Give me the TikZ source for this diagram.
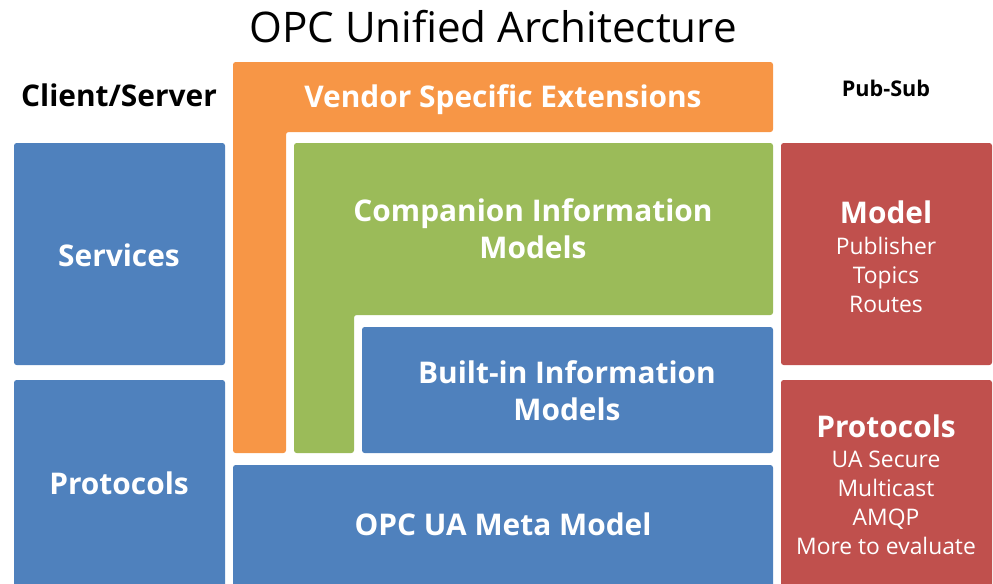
\documentclass[tikz,border=0pt]{standalone}
\usepackage{fontspec}
\setmainfont{Open Sans}
\definecolor{uablue}{HTML}{4F81BD}
\definecolor{uaorange}{HTML}{F79646}
\definecolor{uagreen}{HTML}{9BBB59}
\definecolor{uared}{HTML}{C0504D}
\begin{document}
\begin{tikzpicture}[x=0.02cm,y=-0.02cm,
		layer/.style={rounded corners=1.5pt},
		head/.style={text=white,align=center,
			font=\bfseries\fontsize{17}{21}\selectfont},
		items/.style={text=white,align=center,
			font=\fontsize{13}{16.4}\selectfont},
		label/.style={text=black,font=\bfseries\fontsize{17}{20}\selectfont}]
	\useasboundingbox (0,0) rectangle (993,583);
	% title and column labels
	\node (title) at (493,27) {\fontsize{24}{28}\selectfont OPC Unified Architecture};
	\node [label] (cs) at (119,95) {Client/Server};
	\node [label,font=\bfseries\fontsize{12.3}{14}\selectfont] (ps) at (886,88) {Pub-Sub};
	% client/server column
	\fill [layer,uablue] (14,143) rectangle (225,365);
	\fill [layer,uablue] (14,380) rectangle (225,590);
	\node [head] (services) at (119,255) {Services};
	\node [head] (csproto) at (119,483) {Protocols};
	% layered information models
	\fill [layer,uaorange] (233,62) -- (773,62) -- (773,132) -- (286,132)
		-- (286,453) -- (233,453) -- cycle;
	\fill [layer,uagreen] (294,143) -- (773,143) -- (773,315) -- (354,315)
		-- (354,453) -- (294,453) -- cycle;
	\fill [layer,uablue] (362,327) rectangle (773,453);
	\fill [layer,uablue] (233,465) rectangle (773,590);
	\node [head] (vendor) at (503,100) {Vendor Specific Extensions};
	\node [head] (companion) at (533,229) {Companion Information\\Models};
	\node [head] (builtin) at (567,391) {Built-in Information\\Models};
	\node [head] (meta) at (503,524) {OPC UA Meta Model};
	% pub-sub column
	\fill [layer,uared] (781,143) rectangle (992,365);
	\fill [layer,uared] (781,380) rectangle (992,590);
	\node [head] (model) at (886,212) {Model};
	\node [items] (modelitems) at (886,275) {Publisher\\Topics\\Routes};
	\node [head] (psproto) at (886,426) {Protocols};
	\node [items] (protoitems) at (886,503) {UA Secure\\Multicast\\AMQP\\More to evaluate};
\end{tikzpicture}
\end{document}
